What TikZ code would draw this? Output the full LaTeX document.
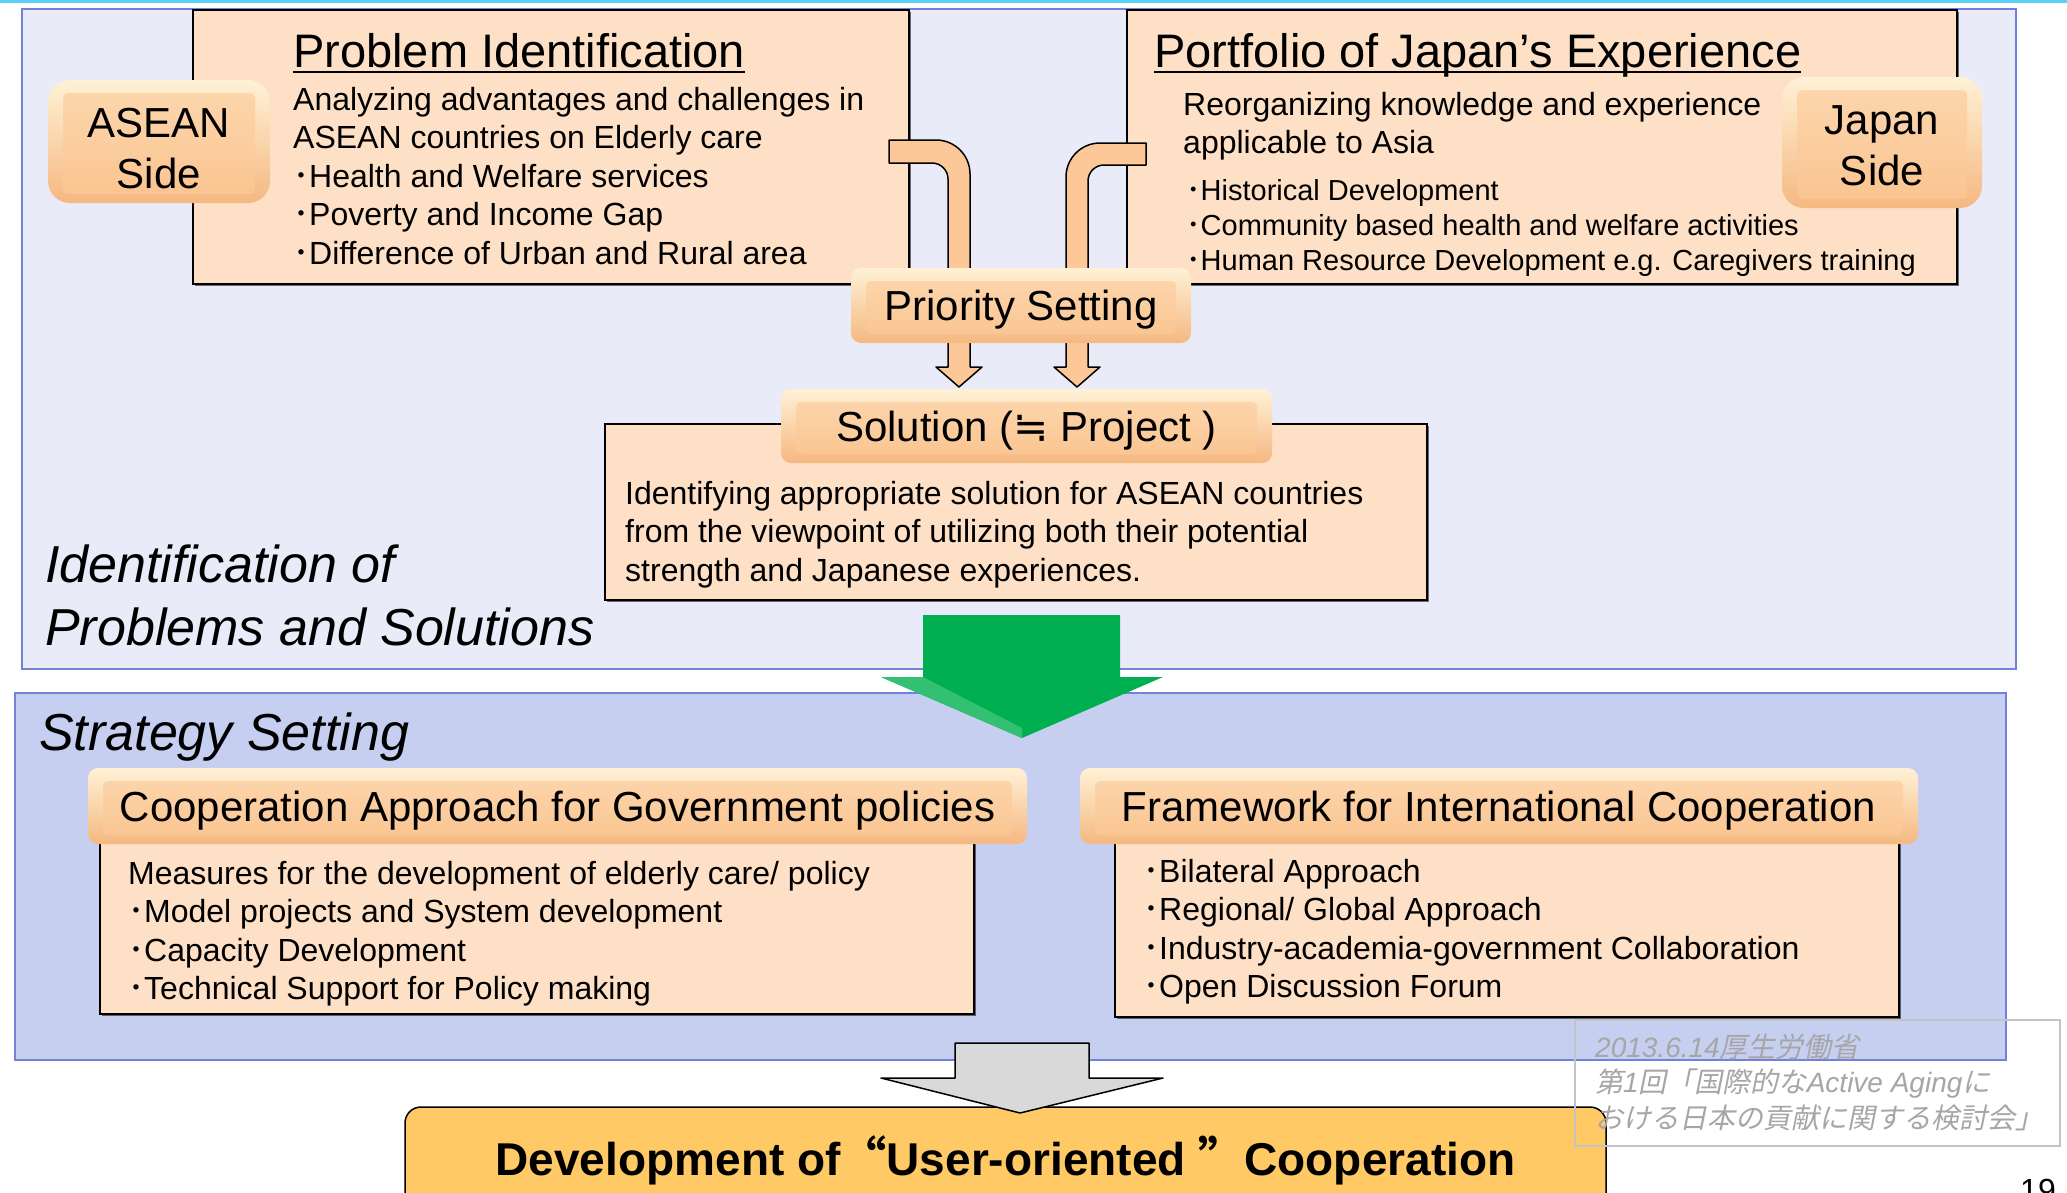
\documentclass[tikz,border=0pt]{standalone}
\usepackage{fontspec}
\setmainfont{Liberation Sans}
\newfontfamily\jpfont{Noto Sans CJK JP}
\newfontfamily\scfont{Noto Sans CJK SC}
\newfontfamily\symfont{DejaVu Sans}
\newfontfamily\jpslant[FakeSlant=0.2]{Noto Sans CJK JP}
\usetikzlibrary{shadows}
\newcommand\itemdot{{\jpfont ･}}

\definecolor{topline}{HTML}{5AD2F7}
\definecolor{panelA}{HTML}{E9ECF8}
\definecolor{panelB}{HTML}{C7CFF0}
\definecolor{panelEdge}{HTML}{7282DA}
\definecolor{peach}{HTML}{FDE0C6}
\definecolor{bendfill}{HTML}{FDC898}
\definecolor{bvTop}{HTML}{FFF1D6}
\definecolor{bvBot}{HTML}{F5B881}
\definecolor{bvFaceT}{HTML}{FDD8B0}
\definecolor{bvFaceB}{HTML}{FAC38E}
\definecolor{goal}{HTML}{FFC966}
\definecolor{arrowgreen}{HTML}{00B050}
\definecolor{arrowgray}{HTML}{D9D9D9}
\definecolor{wmgray}{HTML}{A6A6A6}
\definecolor{wmbox}{HTML}{C4C4C4}

\begin{document}
\begin{tikzpicture}[x=1pt,y=-1pt,
  panel/.style={draw=panelEdge, line width=2pt, inner sep=0pt, anchor=north west},
  bodybox/.style={draw=black, line width=2pt, fill=peach, inner sep=0pt, anchor=north west,
    drop shadow={shadow xshift=1.5pt, shadow yshift=-1.5pt, fill=black, opacity=0.55}},
  bevel/.style={inner sep=0pt, rounded corners=#1, draw=none, top color=bvTop, bottom color=bvBot,
    path picture={\shade[top color=bvFaceT, bottom color=bvFaceB, rounded corners=5pt]
      ([shift={(15pt,-13pt)}]path picture bounding box.north west) rectangle
      ([shift={(-15pt,9pt)}]path picture bounding box.south east);}},
  hdrtext/.style={font=\fontsize{42}{50}\selectfont, text height=30pt, text depth=0pt},
  sidetext/.style={font=\fontsize{42}{51}\selectfont, align=center},
  titletext/.style={anchor=base west, inner sep=0pt, font=\fontsize{47}{56}\selectfont},
  para/.style={anchor=north west, inner sep=0pt, align=left, font=\fontsize{32}{38.5}\selectfont},
  smallpara/.style={anchor=north west, inner sep=0pt, align=left, font=\fontsize{29}{35}\selectfont},
  bigital/.style={inner sep=0pt, align=left, font=\fontsize{52}{63}\selectfont\itshape},
  underbar/.style={line width=2.5pt},
  bentarrow/.style={fill=bendfill, draw=black, line width=1.5pt, line join=round},
]
\useasboundingbox (0,0) rectangle (2067,1192);
\clip (0,0) rectangle (2067,1192);
\fill[white] (0,0) rectangle (2067,1192);
\fill[topline] (0,0) rectangle (2067,3);

% the two stage panels
\node[panel, fill=panelA, minimum width=1994pt, minimum height=660pt] (upper) at (21,8) {};
\node[panel, fill=panelB, minimum width=1991pt, minimum height=367pt] (lower) at (14,692) {};

% problem identification / portfolio boxes
\node[bodybox, minimum width=716pt, minimum height=274pt] (pid) at (192,9) {};
\node[bodybox, minimum width=830pt, minimum height=274pt] (pje) at (1126,9) {};

\node[titletext] (pidt) at (293,67) {Problem Identification};
\draw[underbar] ([yshift=-5pt]pidt.base west) -- ([yshift=-5pt]pidt.base east);
\node[para] (pidb) at (293,83) {\strut Analyzing advantages and challenges in\\
  ASEAN countries on Elderly care\\
  \itemdot Health and Welfare services\\
  \itemdot Poverty and Income Gap\\
  \itemdot Difference of Urban and Rural area};

\node[titletext] (pjet) at (1154,67) {Portfolio of Japan’s Experience};
\draw[underbar] ([yshift=-5pt]pjet.base west) -- ([yshift=-5pt]pjet.base east);
\node[para] (pjeb) at (1183,88) {\strut Reorganizing knowledge and experience\\applicable to Asia};
\node[smallpara] (pjel) at (1186,175.5) {\strut\itemdot Historical Development\\
  \itemdot Community based health and welfare activities\\
  \itemdot Human Resource Development e.g. Caregivers training};

% bent arrows feeding the priority setting
\draw[bentarrow] (889,140) -- (936,140) .. controls (954.8,140) and (970,155.2) .. (970,174)
  -- (970,367) -- (982,367) -- (959,387) -- (936,367) -- (948,367) -- (948,179)
  .. controls (948,170.2) and (940.8,163) .. (932,163) -- (889,163) -- cycle;
\draw[bentarrow] (1146,143) -- (1100,143) .. controls (1081.2,143) and (1066,158.2) .. (1066,177)
  -- (1066,367) -- (1054,367) -- (1077,387) -- (1100,367) -- (1088,367) -- (1088,181)
  .. controls (1088,172.2) and (1095.2,165) .. (1104,165) -- (1146,165) -- cycle;

% side labels
\node[bevel=22pt, sidetext, minimum width=222pt, minimum height=123pt] (asean) at (159,141.5)
  {\rule{0pt}{44pt}ASEAN\\Side};
\node[bevel=22pt, sidetext, minimum width=200pt, minimum height=131pt] (japan) at (1882,142.5)
  {\rule{0pt}{36pt}Japan\\Side};

\node[bevel=10pt, hdrtext, minimum width=340pt, minimum height=75pt] (prio) at (1021,305.5) {Priority Setting};

% solution
\node[bodybox, minimum width=822pt, minimum height=176pt] (sol) at (604,423) {};
\node[bevel=10pt, hdrtext, minimum width=491pt, minimum height=74pt] (solh) at (1026.5,426)
  {Solution ({\symfont ≒} Project )};
\node[para] (solb) at (625,477) {\strut Identifying appropriate solution for ASEAN countries\\
  from the viewpoint of utilizing both their potential\\
  strength and Japanese experiences.};

\node[bigital, anchor=north west] (idt) at (45,538) {\strut Identification of\\Problems and Solutions};

% transition arrow between the stages
\fill[arrowgreen] (923,615) -- (1120,615) -- (1120,677) -- (1163,677) -- (1022,738)
  -- (881,677) -- (923,677) -- cycle;
\fill[arrowgreen!80!white] (881,677) -- (923,677) -- (1022,728) -- (1022,738) -- cycle;

% strategy setting
\node[bigital, anchor=base west] (sst) at (39,750) {Strategy Setting};

\node[bodybox, minimum width=874pt, minimum height=178pt] (cgp) at (99,835) {};
\node[bodybox, minimum width=784pt, minimum height=181pt] (fic) at (1114,835) {};
\node[bevel=10pt, hdrtext, minimum width=939pt, minimum height=76pt] (cgph) at (557.5,806)
  {Cooperation Approach for Government policies};
\node[bevel=10pt, hdrtext, minimum width=838pt, minimum height=76pt] (fich) at (1499,806)
  {Framework for International Cooperation};

\node[para] (cgpb) at (128,857) {\strut Measures for the development of elderly care/ policy\\
  \itemdot Model projects and System development\\
  \itemdot Capacity Development\\
  \itemdot Technical Support for Policy making};
\node[para] (ficb) at (1143,855) {\strut\itemdot Bilateral Approach\\
  \itemdot Regional/ Global Approach\\
  \itemdot Industry-academia-government Collaboration\\
  \itemdot Open Discussion Forum};

% outcome
\node[draw=black, line width=1.5pt, fill=goal, rounded corners=16pt, inner sep=0pt,
  minimum width=1201pt, minimum height=103pt, font=\fontsize{46}{55}\selectfont\bfseries,
  text height=33pt, text depth=0pt] (goalbox) at (1005.5,1158.5)
  {Development of{\scfont\bfseries “}User-oriented {\scfont\bfseries ”}Cooperation};
\draw[fill=arrowgray, draw=black, line width=1.5pt, line join=round]
  (955,1043) -- (1089,1043) -- (1089,1078) -- (1163,1078) -- (1020,1113)
  -- (881,1078) -- (955,1078) -- cycle;

% source note
\node[draw=wmbox, line width=1.5pt, inner sep=0pt, anchor=north west,
  minimum width=485pt, minimum height=126pt] (wm) at (1574,1019) {};
\node[anchor=north west, inner sep=0pt, align=left, text=wmgray,
  font=\fontsize{28}{35.5}\selectfont\jpslant] (wmt) at (1595,1032)
  {\strut{\rmfamily\itshape 2013.6.14}厚生労働省\\
   第{\rmfamily\itshape 1}回「国際的な{\rmfamily\itshape Active Aging}に\\
   おける日本の貢献に関する検討会」};

\node[anchor=base west, inner sep=0pt, font=\fontsize{32}{38}\selectfont] (pageno) at (2020,1201) {19};
\end{tikzpicture}
\end{document}
